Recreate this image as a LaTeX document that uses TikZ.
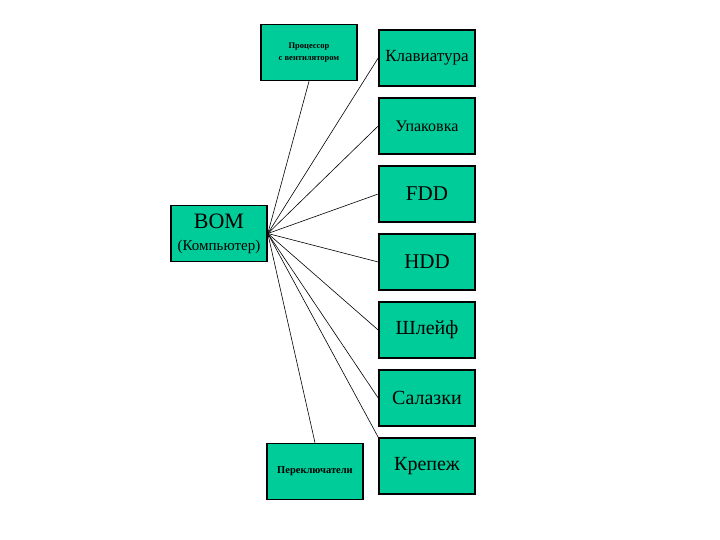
\documentclass[tikz,border=0pt]{standalone}
\usepackage{fontspec}
\setmainfont{Liberation Serif}
\usetikzlibrary{positioning}
\definecolor{boxgreen}{HTML}{00CC99}
\tikzset{part/.style = {draw, line width = 1.6pt, fill = boxgreen, minimum width = 96pt,
    minimum height = 56pt, inner sep = 1pt, align = center}}

\begin{document}
\begin{tikzpicture}[x=1pt, y=-1pt, line width=0.6pt]
    \useasboundingbox (0, 0) rectangle (720, 540);

    \node [part] (bom) at (219, 233.5) {\fontsize{22}{24}\selectfont BOM\\[10pt]
      \fontsize{15}{17}\selectfont (Компьютер)};
    \node [part] (proc) at (309, 52.5) {\fontsize{8.5}{10}\selectfont\bfseries Процессор\\
      \fontsize{8.5}{10}\selectfont\bfseries с вентилятором};
    \node [part] (switch) at (315, 471.5) {\fontsize{10.5}{12}\selectfont\bfseries Переключатели};

    \node [part] (keyb) at (427, 58) {\fontsize{17}{19}\selectfont Клавиатура};
    \node [part, below = 10.4pt of keyb] (pack) {\fontsize{16}{18}\selectfont Упаковка};
    \node [part, below = 10.4pt of pack] (fdd) {\fontsize{21}{23}\selectfont FDD};
    \node [part, below = 10.4pt of fdd] (hdd) {\fontsize{21}{23}\selectfont HDD};
    \node [part, below = 10.4pt of hdd] (loop) {\fontsize{20}{22}\selectfont Шлейф};
    \node [part, below = 10.4pt of loop] (sled) {\fontsize{20}{22}\selectfont Салазки};
    \node [part, below = 10.4pt of sled] (mount) {\fontsize{20}{22}\selectfont Крепеж};

    \draw (bom.east) -- (proc.south);
    \draw (bom.east) -- (keyb.west);
    \draw (bom.east) -- (pack.west);
    \draw (bom.east) -- (fdd.west);
    \draw (bom.east) -- (hdd.west);
    \draw (bom.east) -- (loop.west);
    \draw (bom.east) -- (sled.west);
    \draw (bom.east) -- (mount.north west);
    \draw (bom.east) -- (switch.north);
  \end{tikzpicture}
\end{document}
